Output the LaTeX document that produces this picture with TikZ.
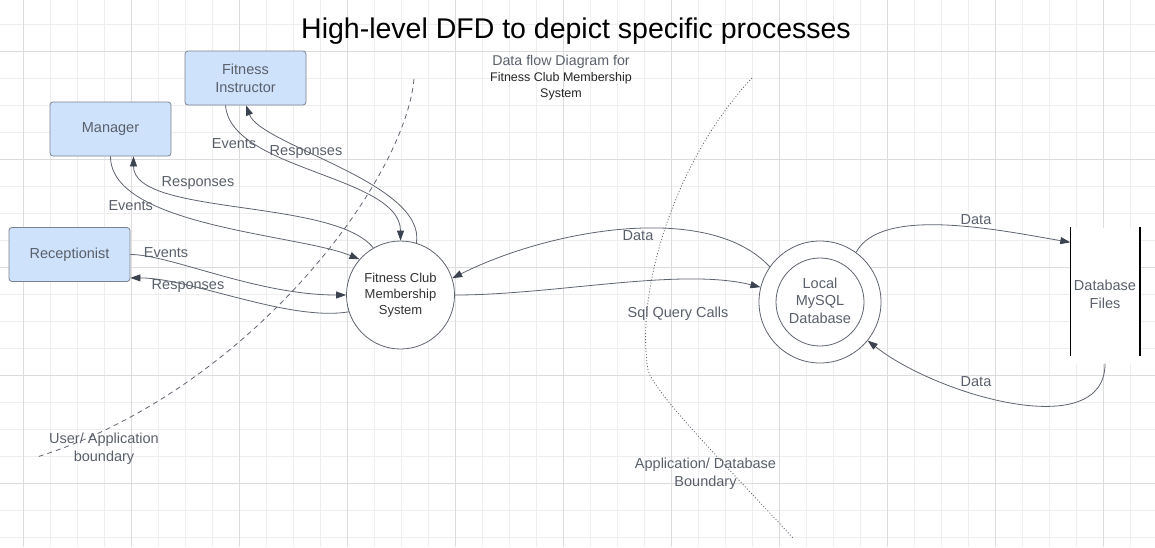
\documentclass[tikz,border=0pt]{standalone}
\usepackage{fontspec}
\setmainfont{Liberation Sans}
\usepackage{xcolor}
\usetikzlibrary{arrows.meta}

\definecolor{boxfill}{HTML}{CFE2FB}
\definecolor{boxline}{HTML}{7A8290}
\definecolor{txtgray}{HTML}{5A606B}
\definecolor{flowline}{HTML}{5E6470}
\definecolor{tipcol}{HTML}{3C4350}
\definecolor{gridminor}{HTML}{EEEEEE}
\definecolor{gridmajor}{HTML}{DCDCDC}

\begin{document}
\begin{tikzpicture}[x=1pt,y=-1pt,
	entity/.style={draw=boxline,fill=boxfill,rounded corners=3pt,minimum width=121pt,minimum height=54pt,align=center,text=txtgray,font=\fontsize{14.5}{18}\selectfont,line width=0.8pt},
	process/.style={circle,draw=flowline,fill=white,align=center,inner sep=0pt,line width=0.8pt},
	lbl/.style={text=txtgray,font=\fontsize{14.5}{18}\selectfont,align=center,inner sep=0pt},
	flow/.style={draw=flowline,line width=0.8pt,-{Triangle[length=10pt,width=7pt,color=tipcol]}}]
		\useasboundingbox (0,0) rectangle (1155,547);
		\fill[white] (0,0) rectangle (1155,547);
		\foreach \k in {0,...,43} \draw[gridminor,line width=0.8pt] (-3.7+27*\k,0) -- (-3.7+27*\k,547);
		\foreach \k in {1,...,20} \draw[gridminor,line width=0.8pt] (0,-3+27*\k) -- (1155,-3+27*\k);
		\foreach \m in {0,...,10} \draw[gridmajor,line width=0.8pt] (23.3+108*\m,0) -- (23.3+108*\m,547);
		\foreach \m in {0,...,4} \draw[gridmajor,line width=0.8pt] (0,51+108*\m) -- (1155,51+108*\m);
		
		\draw[flowline,dash pattern=on 5pt off 4pt,line width=0.8pt] (414,79) .. controls (405,180) and (250,390) .. (37,457);
		\draw[flowline,dash pattern=on 1pt off 2pt,line width=0.8pt] (752,78) .. controls (675,160) and (635,290) .. (648,370) .. controls (655,395) and (740,480) .. (793,538);
		
		\node[font=\fontsize{28.5}{32}\selectfont] (title) at (576,31) {High-level DFD to depict specific processes};
		\node[lbl,font=\fontsize{14.2}{18}\selectfont] (dfd) at (561,62) {Data flow Diagram for};
		\node[lbl,text=black!85,font=\fontsize{12.5}{16}\selectfont] (dfdsys) at (561,86.5) {Fitness Club Membership\\System};
		
		\node[entity] (fi) at (245.5,78) {Fitness\\Instructor};
		\node[entity] (man) at (110.5,129) {Manager};
		\node[entity] (rec) at (69.5,254.5) {Receptionist};
		\node[process,minimum size=108pt,text=black!80,font=\fontsize{13}{16}\selectfont] (sys) at (400.5,295) {Fitness Club\\Membership\\System};
		\node[process,minimum size=122pt] (dbo) at (820,302) {};
		\node[process,minimum size=88pt,text=txtgray,font=\fontsize{14.5}{17.5}\selectfont] (dbi) at (820,302) {Local\\MySQL\\Database\vphantom{y}};
		\node[fill=white,minimum width=69pt,minimum height=136pt,inner sep=0pt,align=center,text=txtgray,font=\fontsize{14.5}{18}\selectfont] (files) at (1105,295.5) {Database\\Files\vphantom{y}};
		\draw[line width=1.6pt] (files.north west) -- ([yshift=8pt]files.south west);
		\draw[line width=1.6pt] (files.north east) -- ([yshift=8pt]files.south east);
		
		\draw[flow] (man.south) .. controls +(0,70) and +(-60,-25) .. (sys.139);
		\draw[flow] (sys.120) .. controls +(-40,-50) and +(0,60) .. (man.-50);
		\draw[flow] ([xshift=-20pt]fi.south) .. controls +(5,65) and +(0,-65) .. (sys.north);
		\draw[flow] (sys.73) .. controls +(10,-60) and +(15,40) .. ([xshift=0.5pt]fi.south);
		\draw[flow] (rec.east) .. controls +(40,0) and +(-90,0) .. (sys.west);
		\draw[flow] (sys.198) .. controls +(-60,10) and +(60,0) .. (rec.-21);
		\draw[flow] (dbo.145) .. controls +(-60,-65) and +(100,-50) .. (sys.18);
		\draw[flow] (sys.east) .. controls +(100,0) and +(-80,-20) .. (dbo.166);
		\draw[flow] (dbo.54) .. controls +(25,-47) and +(-70,-12) .. ([yshift=-15pt]files.north west);
		\draw[flow] (files.south) .. controls +(0,80) and +(70,55) .. (dbo.-39);
		
		\node[lbl] (evman) at (130.7,205.5) {Events};
		\node[lbl] (resman) at (198,183.5) {Responses};
		\node[lbl] (evfi) at (234,143.5) {Events};
		\node[lbl] (resfi) at (306,152.5) {Responses};
		\node[lbl] (evrec) at (166,253) {Events};
		\node[lbl] (resrec) at (188,286.5) {Responses};
		\node[lbl] (datatop) at (638,235.5) {Data};
		\node[lbl] (sql) at (678,314) {Sql Query Calls};
		\node[lbl] (datain) at (976,219.5) {Data};
		\node[lbl] (dataout) at (976,381.5) {Data};
		\node[lbl] (ub) at (104,449) {User/ Application\\boundary};
		\node[lbl] (adb) at (705.5,473.5) {Application/ Database\\Boundary};
	\end{tikzpicture}
\end{document}
